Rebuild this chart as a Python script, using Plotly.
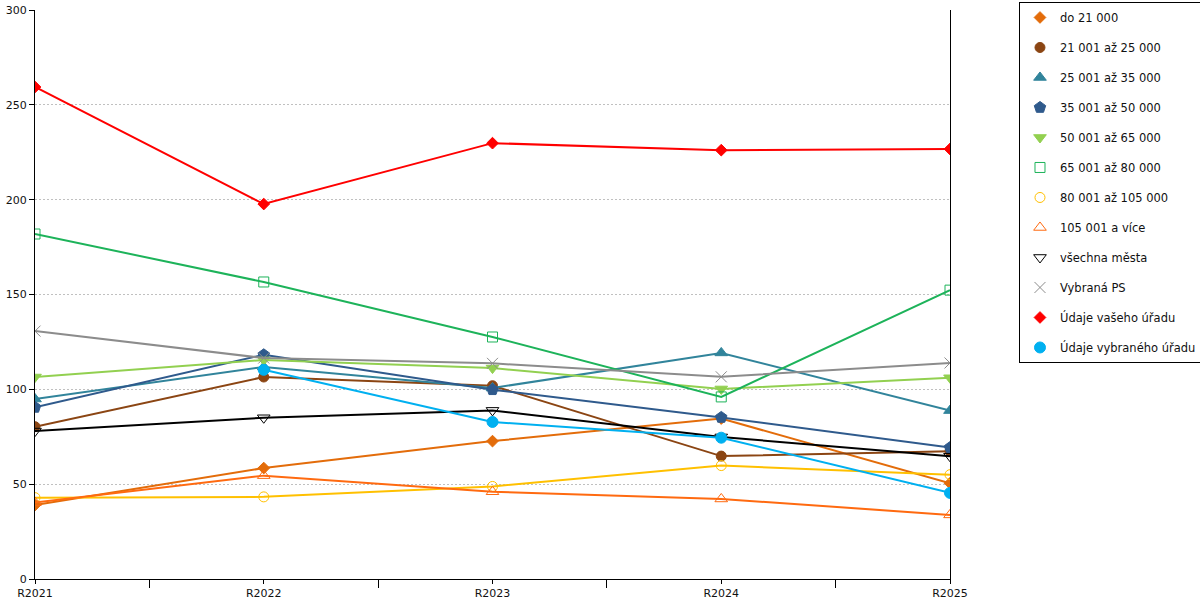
import plotly.graph_objects as go

years = ["R2021", "R2022", "R2023", "R2024", "R2025"]

do_21000 = [39, 58.5, 72.7, 84.6, 50.5]
od_21001_25000 = [80.3, 106.5, 101.9, 64.8, 67.3]
od_25001_35000 = [94.9, 111.8, 100.7, 119.2, 88.8]
od_35001_50000 = [90.5, 118.2, 99.8, 85.2, 69.3]
od_50001_65000 = [106.5, 115.5, 111.2, 100.2, 106.1]
od_65001_80000 = [181.9, 156.6, 127.6, 96.0, 152.3]
od_80001_105000 = [42.9, 43.3, 48.8, 59.8, 55.0]
od_105001 = [40.3, 54.5, 46.0, 42.2, 33.8]
vsechna_mesta = [78.0, 85.0, 88.9, 74.9, 64.7]
vybrana_ps = [130.7, 116.5, 113.7, 106.6, 113.9]
vas_urad = [259.4, 197.7, 229.8, 226.1, 226.7]
vybrany_urad = [None, 110.3, 82.8, 74.5, 45.4]

series = [
    ("do 21 000", do_21000, "#E36C0A", "diamond", 9),
    ("21 001 až 25 000", od_21001_25000, "#8B4513", "circle", 10),
    ("25 001 až 35 000", od_25001_35000, "#31849B", "triangle-up", 11),
    ("35 001 až 50 000", od_35001_50000, "#2F5A8C", "pentagon", 12),
    ("50 001 až 65 000", od_50001_65000, "#92D050", "triangle-down", 11),
    ("65 001 až 80 000", od_65001_80000, "#1DB35A", "square-open", 10),
    ("80 001 až 105 000", od_80001_105000, "#FFC000", "circle-open", 10),
    ("105 001 a více", od_105001, "#FF6A10", "triangle-up-open", 11),
    ("všechna města", vsechna_mesta, "#000000", "triangle-down-open", 11),
    ("Vybraná PS", vybrana_ps, "#8C8C8C", "x-thin-open", 11),
    ("Údaje vašeho úřadu", vas_urad, "#FF0000", "diamond", 9),
    ("Údaje vybraného úřadu", vybrany_urad, "#00B0F0", "circle", 11),
]

x_idx = list(range(len(years)))

fig = go.Figure()
for i, (name, vals, color, symbol, size) in enumerate(series):
    fig.add_trace(go.Scatter(
        x=x_idx, y=vals, name=name, mode="lines+markers",
        showlegend=False,
        line=dict(color=color, width=2),
        marker=dict(symbol=symbol, size=size, color=color,
                    line=dict(color=color, width=1)),
    ))
    # marker-only legend entry (the original legend shows no line sample)
    fig.add_trace(go.Scatter(
        x=[None], y=[None], name=name, mode="markers",
        legendgroup=f"g{i}",
        marker=dict(symbol=symbol, size=size, color=color,
                    line=dict(color=color, width=1)),
    ))

fig.update_layout(
    width=1200, height=600,
    margin=dict(l=35, r=250, t=10, b=21, autoexpand=False),
    plot_bgcolor="white", paper_bgcolor="white",
    font=dict(family="DejaVu Sans", size=11, color="#111111"),
    legend=dict(
        x=1.0754, y=1.0141, xanchor="left", yanchor="top",
        bordercolor="#000000", borderwidth=1, bgcolor="white",
        tracegroupgap=11, font=dict(size=11.5), maxheight=600,
    ),
)

fig.update_xaxes(
    range=[0, 4], tickvals=x_idx, ticktext=years,
    showline=True, linecolor="#000000", linewidth=1,
    ticks="outside", ticklen=4, tickcolor="#000000",
    minor=dict(tickvals=[0.5, 1.5, 2.5, 3.5], ticks="outside", ticklen=8, tickcolor="#000000"),
    showgrid=False, zeroline=False, automargin=False,
)
fig.update_yaxes(
    range=[0, 300], dtick=50,
    showline=True, linecolor="#000000", linewidth=1, mirror=True,
    ticks="outside", ticklen=5, tickcolor="#000000",
    showgrid=True, gridcolor="#C0C0C0", griddash="2px,2px", gridwidth=1,
    zeroline=False, automargin=False,
)

# drop the default 8px body margin so the figure sits at the window corner
fig.write_html("out.html", config={"displayModeBar": False},
               post_script="document.body.style.margin = '0px';")
